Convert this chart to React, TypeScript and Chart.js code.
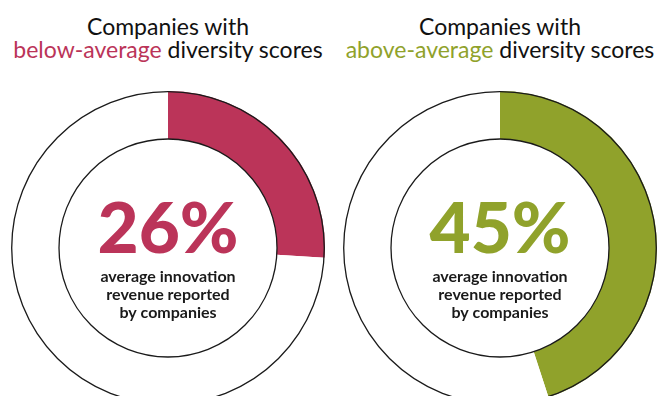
import React, { useEffect, useRef } from 'react';
import { Chart, registerables } from 'chart.js';

Chart.register(...registerables);

const segmentLabels = ['Share', 'Remainder'];
const leftValues = [26, 74];
const rightValues = [45, 55];
const leftPct = '26%';
const rightPct = '45%';
const subLines = ['average innovation', 'revenue reported', 'by companies'];
const titleLine1 = 'Companies with';
const leftHighlight = 'below-average';
const rightHighlight = 'above-average';
const titleRest = ' diversity scores';

const RED = '#BB3459';
const GREEN = '#90A22B';
const INK = '#1a1a1a';

function Donut({ values, color, pct, left }: { values: number[]; color: string; pct: string; left: number }) {
  const ref = useRef<HTMLCanvasElement | null>(null);
  useEffect(() => {
    if (!ref.current) return;
    const overlay = {
      id: 'overlay',
      afterDatasetsDraw(chart: any) {
        const arc = chart.getDatasetMeta(0).data[0];
        const { x, y, innerRadius, outerRadius } = arc.getProps(['x', 'y', 'innerRadius', 'outerRadius'], true);
        const ctx = chart.ctx;
        ctx.save();
        ctx.strokeStyle = INK;
        ctx.lineWidth = 1.3;
        ctx.beginPath();
        ctx.arc(x, y, outerRadius - 0.7, 0, Math.PI * 2);
        ctx.stroke();
        ctx.beginPath();
        ctx.arc(x, y, innerRadius, 0, Math.PI * 2);
        ctx.stroke();
        ctx.textAlign = 'center';
        ctx.textBaseline = 'alphabetic';
        ctx.fillStyle = color;
        ctx.font = '900 71px Lato';
        ctx.fillText(pct, x, y + 5);
        ctx.fillStyle = INK;
        ctx.font = 'bold 16px Lato';
        subLines.forEach((l, i) => ctx.fillText(l, x, y + 34 + i * 18));
        ctx.restore();
      },
    };
    const chart = new Chart(ref.current, {
      type: 'doughnut',
      data: {
        labels: segmentLabels,
        datasets: [
          {
            data: values,
            backgroundColor: [color, '#ffffff'],
            borderWidth: 0,
          },
        ],
      },
      options: {
        animation: false,
        responsive: false,
        events: [],
        cutout: 109,
        plugins: { legend: { display: false }, tooltip: { enabled: false }, title: { display: false } },
      },
      plugins: [overlay],
    });
    return () => chart.destroy();
  }, []);
  return (
    <canvas
      ref={ref}
      width={314}
      height={314}
      style={{ position: 'absolute', left, top: 91, width: 314, height: 314 }}
    />
  );
}

function Title({ highlight, color, center }: { highlight: string; color: string; center: number }) {
  return (
    <div
      style={{
        position: 'absolute',
        left: center - 200,
        width: 400,
        top: 15,
        textAlign: 'center',
        fontFamily: 'Lato, sans-serif',
        fontSize: 23,
        lineHeight: '23px',
        color: '#111',
      }}
    >
      <div>{titleLine1}</div>
      <div>
        <span style={{ color }}>{highlight}</span>
        {titleRest}
      </div>
    </div>
  );
}

export default function App() {
  return (
    <div
      style={{
        position: 'fixed',
        left: 0,
        top: 0,
        width: 672,
        height: 396,
        overflow: 'hidden',
        background: '#ffffff',
      }}
    >
      <Title highlight={leftHighlight} color={RED} center={168} />
      <Title highlight={rightHighlight} color={GREEN} center={500} />
      <Donut values={leftValues} color={RED} pct={leftPct} left={11} />
      <Donut values={rightValues} color={GREEN} pct={rightPct} left={343} />
    </div>
  );
}
